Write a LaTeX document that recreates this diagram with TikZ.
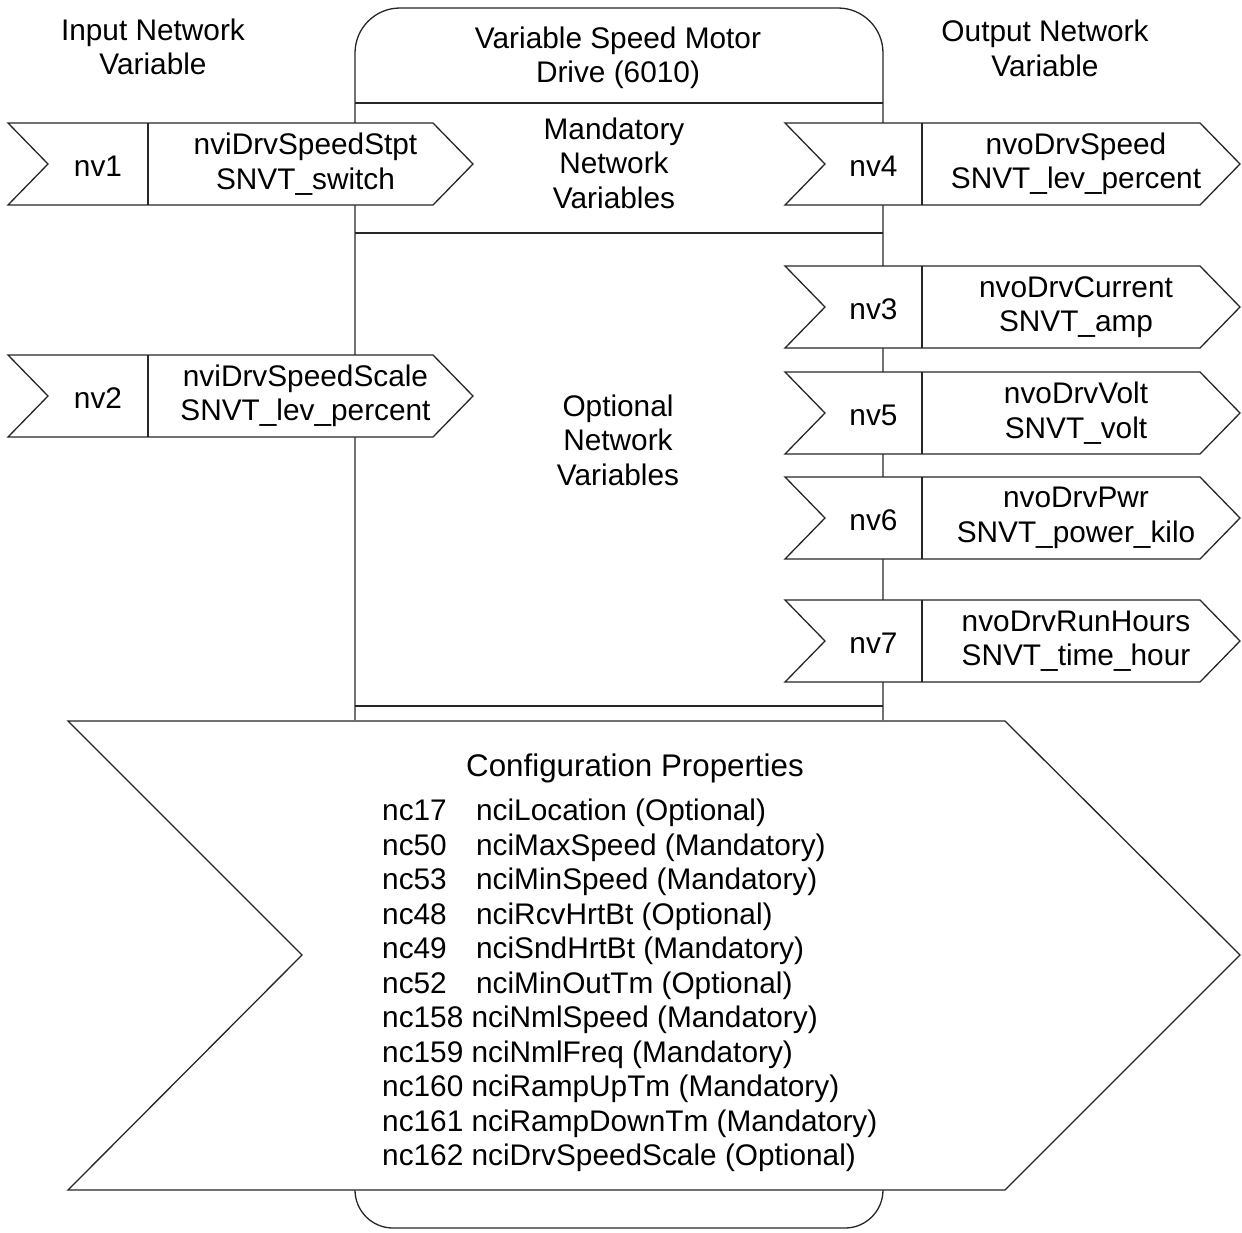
\documentclass[tikz,border=0pt]{standalone}
\usepackage{fontspec}
\setmainfont{Liberation Sans}
\tikzset{
  shapeline/.style={draw=black!85, line width=1.3pt},
  lab/.style={inner sep=0pt, font=\fontsize{29.8}{34.5}\selectfont, text=black},
  bigtitle/.style={inner sep=0pt, font=\fontsize{31.3}{36}\selectfont, text=black},
}
\newcommand\flagshape[9]{%
  \draw[shapeline, fill=white] (#2,#3) -- (#6,#3) -- ({#6+40},{(#3+#4)/2}) -- (#6,#4) -- (#2,#4) -- ({#2+40},{(#3+#4)/2}) -- cycle;
  \draw[shapeline] (#5,#3) -- (#5,#4);
  \node[lab] (#1-nv) at ({(#2+40+#5)/2},{(#3+#4)/2+2}) {#7};
  \node[lab, align=center] (#1-name) at ({(#5+#6+40)/2-5},{(#3+#4)/2}) {#8\\#9};
}
\begin{document}
\begin{tikzpicture}[x=1pt,y=-1pt]
\useasboundingbox (0,0) rectangle (1242,1232);
% main box upper part
\draw[shapeline, rounded corners=45pt] (355,720) -- (355,8) -- (883,8) -- (883,720);
\draw[shapeline] (355,103) -- (883,103);
\draw[shapeline] (355,233) -- (883,233);
\draw[shapeline] (355,706) -- (883,706);
% main box lower part
\draw[shapeline, rounded corners=38pt] (355,1190) -- (355,1228) -- (883,1228) -- (883,1190);
% headings
\node[lab, align=center] (title) at (618,58) {Variable Speed Motor\\Drive (6010)};
\node[lab, align=center] (inhead) at (153,47) {Input Network\\Variable};
\node[lab, align=center] (outhead) at (1045,48.5) {Output Network\\Variable};
\node[lab, align=center] (mand) at (614,163) {Mandatory\\Network\\Variables};
\node[lab, align=center] (opt) at (618,440) {Optional\\Network\\Variables};
% input network variables
\flagshape{nv1}{8}{123}{205}{148}{433}{nv1}{nviDrvSpeedStpt}{SNVT\_switch}
\flagshape{nv2}{8}{355}{437}{148}{433}{nv2}{nviDrvSpeedScale}{SNVT\_lev\_percent}
% output network variables
\flagshape{nv4}{785}{123}{205}{922}{1200}{nv4}{nvoDrvSpeed}{SNVT\_lev\_percent}
\flagshape{nv3}{785}{266}{348}{922}{1200}{nv3}{nvoDrvCurrent}{SNVT\_amp}
\flagshape{nv5}{785}{372}{454}{922}{1200}{nv5}{nvoDrvVolt}{SNVT\_volt}
\flagshape{nv6}{785}{477}{559}{922}{1200}{nv6}{nvoDrvPwr}{SNVT\_power\_kilo}
\flagshape{nv7}{785}{600}{682}{922}{1200}{nv7}{nvoDrvRunHours}{SNVT\_time\_hour}
% configuration properties
\draw[shapeline, fill=white] (68,721) -- (1005,721) -- (1240,955) -- (1005,1190) -- (68,1190) -- (302,955) -- cycle;
\node[bigtitle] (cfgtitle) at (635,768) {Configuration Properties};
\foreach \i/\a/\b in {1/nc17/nciLocation (Optional),
                      2/nc50/nciMaxSpeed (Mandatory),
                      3/nc53/nciMinSpeed (Mandatory),
                      4/nc48/nciRcvHrtBt (Optional),
                      5/nc49/nciSndHrtBt (Mandatory),
                      6/nc52/nciMinOutTm (Optional)} {
  \node[lab, anchor=west] (cp\i) at (382,{813+34.5*(\i-1)}) {\makebox[94pt][l]{\a}\b};
}
\foreach \i/\t in {7/nc158 nciNmlSpeed (Mandatory),
                   8/nc159 nciNmlFreq (Mandatory),
                   9/nc160 nciRampUpTm (Mandatory),
                   10/nc161 nciRampDownTm (Mandatory),
                   11/nc162 nciDrvSpeedScale (Optional)} {
  \node[lab, anchor=west] (cp\i) at (382,{813+34.5*(\i-1)}) {\t};
}
\end{tikzpicture}
\end{document}
